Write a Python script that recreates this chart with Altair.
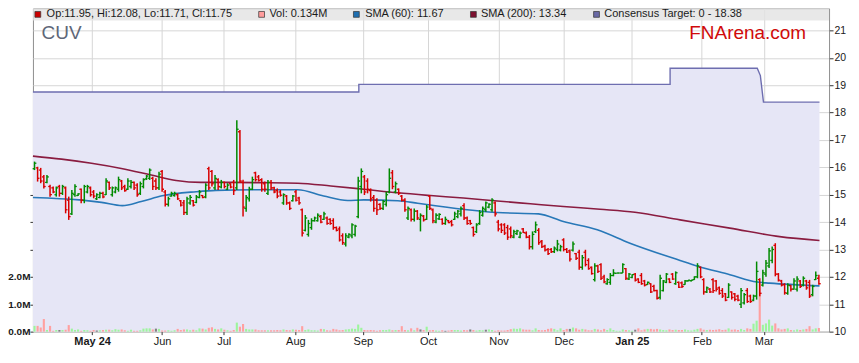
import altair as alt
import pandas as pd

# ---------------- data ----------------
OPEN = [
    15.95, 15.98, 15.90, 15.65, 15.45, 15.30, 15.25, 15.00, 15.30, 15.05,
    15.25, 14.80, 14.30, 15.00, 14.97, 15.20, 14.80, 15.10, 15.25, 15.10,
    14.85, 14.90, 15.05, 15.00, 15.45, 15.00, 15.10, 15.20, 15.50, 15.30,
    15.20, 15.30, 15.45, 15.35, 15.05, 15.30, 15.58, 15.60, 15.60, 15.50,
    15.25, 15.85, 15.10, 14.65, 14.95, 14.97, 15.00, 14.78, 14.70, 14.35,
    14.70, 14.78, 14.72, 14.90, 14.97, 14.92, 15.95, 15.85, 15.25, 15.55,
    15.28, 15.45, 15.20, 15.40, 15.45, 15.25, 17.30, 15.45, 14.50, 14.85,
    15.20, 15.80, 15.65, 15.55, 15.40, 15.05, 15.45, 15.25, 15.15, 15.10,
    14.70, 14.95, 14.70, 14.78, 15.10, 14.88, 14.45, 13.70, 13.55, 13.80,
    14.05, 14.05, 14.20, 14.10, 14.15, 14.10, 14.05, 13.80, 13.75, 13.50,
    13.20, 13.45, 13.50, 13.55, 14.20, 15.30, 15.65, 15.50, 15.15, 14.90,
    14.80, 14.65, 14.50, 14.65, 15.10, 15.80, 15.10, 15.20, 14.95, 14.80,
    14.15, 14.45, 14.10, 14.40, 14.10, 14.22, 14.10, 14.95, 14.45, 14.00,
    14.12, 14.10, 13.95, 14.05, 14.02, 14.10, 14.20, 14.30, 14.60, 14.15,
    14.05, 13.80, 13.65, 13.95, 14.25, 14.45, 14.55, 14.45, 14.70, 14.00,
    13.90, 13.90, 13.80, 13.75, 13.45, 13.58, 13.45, 13.75, 13.60, 13.45,
    13.10, 13.65, 13.70, 13.30, 13.12, 13.00, 13.00, 12.92, 13.00, 12.98,
    13.35, 13.00, 12.95, 12.98, 12.85, 12.90, 12.35, 12.90, 12.60, 12.35,
    11.90, 12.40, 12.45, 12.00, 11.75, 11.80, 12.05, 12.13, 12.14, 12.14,
    12.30, 11.92, 11.98, 12.10, 11.92, 12.05, 11.85, 11.72, 11.75, 11.65,
    11.50, 11.25, 11.50, 11.80, 11.92, 12.10, 11.75, 11.80, 11.78, 11.72,
    11.85, 11.86, 11.90, 12.00, 12.35, 11.90, 11.45, 11.55, 11.90, 11.85,
    11.60, 11.50, 11.38, 11.25, 11.45, 11.38, 11.30, 11.00, 11.05, 11.50,
    11.30, 11.15, 11.30, 11.90, 11.70, 12.10, 12.40, 12.60, 13.15, 12.10,
    11.85, 11.72, 11.40, 11.68, 11.55, 11.55, 11.85, 11.70, 11.85, 11.80,
    11.35, 11.90, 11.95,
]
HIGH = [
    16.21, 16.02, 15.98, 15.72, 15.72, 15.36, 15.30, 15.30, 15.36, 15.36,
    15.30, 14.93, 15.17, 15.38, 15.05, 15.23, 15.36, 15.36, 15.30, 15.17,
    15.05, 15.11, 15.11, 15.60, 15.48, 15.30, 15.30, 15.66, 15.54, 15.36,
    15.60, 15.54, 15.48, 15.42, 15.48, 15.60, 15.72, 15.96, 15.66, 15.60,
    15.84, 15.90, 15.17, 14.93, 15.11, 15.11, 15.05, 14.81, 14.81, 14.93,
    14.99, 14.81, 14.99, 15.17, 14.99, 15.42, 16.02, 15.90, 15.72, 15.60,
    15.54, 15.48, 15.42, 15.42, 15.54, 17.72, 17.36, 15.55, 14.99, 15.29,
    15.66, 15.84, 15.72, 15.60, 15.48, 15.54, 15.54, 15.29, 15.23, 15.17,
    15.05, 14.99, 14.75, 14.99, 15.17, 14.93, 14.50, 14.26, 14.08, 14.14,
    14.20, 14.32, 14.26, 14.38, 14.20, 14.14, 14.14, 13.84, 13.84, 13.59,
    13.59, 13.59, 13.96, 13.90, 15.66, 15.96, 15.72, 15.60, 15.23, 14.99,
    14.87, 14.69, 14.81, 15.11, 15.96, 15.90, 15.48, 15.23, 14.99, 14.87,
    14.57, 14.50, 14.50, 14.44, 14.32, 14.26, 14.63, 14.99, 14.50, 14.32,
    14.32, 14.14, 14.20, 14.08, 14.08, 14.38, 14.44, 14.57, 14.69, 14.20,
    14.08, 13.84, 13.96, 14.44, 14.57, 14.75, 14.69, 14.87, 14.75, 14.08,
    13.96, 13.96, 13.90, 13.84, 13.72, 13.72, 13.66, 13.78, 13.66, 13.53,
    13.66, 14.02, 13.78, 13.35, 13.17, 13.05, 13.05, 13.11, 13.35, 13.17,
    13.41, 13.05, 13.00, 13.29, 12.87, 12.99, 12.80, 12.99, 12.68, 12.38,
    12.50, 12.44, 12.50, 12.08, 11.95, 12.14, 12.28, 12.14, 12.14, 12.50,
    12.32, 12.14, 12.10, 12.14, 11.95, 12.14, 11.89, 11.83, 11.77, 11.71,
    11.53, 12.08, 11.89, 12.14, 11.95, 12.14, 12.20, 11.83, 11.83, 11.89,
    11.89, 11.89, 12.02, 12.50, 12.38, 11.95, 11.65, 11.59, 11.95, 11.89,
    11.65, 11.59, 11.41, 11.77, 11.47, 11.41, 11.35, 11.59, 11.41, 11.59,
    11.35, 11.35, 12.56, 11.95, 12.26, 12.62, 13.05, 13.11, 13.23, 12.14,
    11.89, 11.77, 11.77, 11.71, 11.95, 12.02, 11.89, 12.02, 11.89, 11.89,
    11.71, 12.20, 12.08,
]
LOW = [
    15.90, 15.48, 15.42, 15.23, 15.42, 14.93, 15.05, 14.93, 14.93, 14.99,
    14.32, 14.08, 14.26, 14.93, 14.95, 14.69, 14.69, 15.05, 14.93, 14.87,
    14.81, 14.87, 14.87, 14.99, 15.17, 14.93, 15.05, 15.11, 15.17, 15.11,
    15.17, 15.23, 15.17, 14.93, 14.99, 15.23, 15.54, 15.54, 15.17, 15.17,
    15.17, 15.11, 14.57, 14.57, 14.93, 14.93, 14.81, 14.57, 14.26, 14.26,
    14.63, 14.57, 14.69, 14.87, 14.87, 14.87, 15.17, 15.30, 15.17, 15.17,
    15.23, 15.23, 15.17, 15.23, 14.99, 15.17, 15.43, 14.20, 14.38, 14.75,
    15.17, 15.48, 15.48, 15.11, 15.11, 14.99, 15.17, 15.05, 14.87, 14.93,
    14.63, 14.63, 14.44, 14.75, 14.75, 14.63, 13.47, 13.66, 13.47, 13.72,
    14.02, 14.02, 13.96, 14.08, 13.90, 13.90, 13.72, 13.66, 13.29, 13.17,
    13.11, 13.41, 13.41, 13.47, 14.14, 15.05, 14.99, 15.05, 14.75, 14.38,
    14.26, 14.44, 14.44, 14.57, 15.05, 15.20, 15.05, 14.99, 14.75, 14.38,
    14.08, 14.02, 14.02, 14.08, 13.66, 14.02, 14.08, 14.44, 13.96, 13.96,
    14.08, 13.90, 13.90, 13.96, 13.84, 14.08, 14.14, 14.20, 14.08, 13.90,
    13.90, 13.47, 13.60, 13.90, 14.20, 14.38, 14.51, 14.38, 14.20, 13.66,
    13.60, 13.53, 13.35, 13.41, 13.41, 13.53, 13.41, 13.60, 13.41, 13.00,
    13.00, 13.60, 13.17, 13.05, 12.93, 12.80, 12.87, 12.87, 12.93, 12.93,
    12.93, 12.87, 12.56, 12.93, 12.62, 12.26, 12.26, 12.38, 12.26, 12.08,
    11.83, 12.14, 11.89, 11.77, 11.71, 11.71, 12.02, 12.13, 12.14, 12.14,
    11.89, 11.89, 11.95, 11.83, 11.77, 11.71, 11.65, 11.71, 11.41, 11.47,
    11.17, 11.17, 11.47, 11.77, 11.77, 11.89, 11.71, 11.59, 11.59, 11.71,
    11.83, 11.83, 11.89, 11.95, 11.95, 11.35, 11.41, 11.41, 11.41, 11.47,
    11.35, 11.23, 11.11, 11.23, 11.17, 11.11, 11.11, 10.86, 10.99, 11.05,
    11.05, 11.11, 11.17, 11.29, 11.65, 12.00, 12.32, 12.50, 12.02, 11.83,
    11.65, 11.35, 11.35, 11.47, 11.53, 11.47, 11.59, 11.65, 11.53, 11.23,
    11.29, 11.89, 11.71,
]
CLOSE = [
    16.15, 15.60, 15.50, 15.30, 15.65, 15.00, 15.10, 15.25, 15.05, 15.30,
    14.45, 14.20, 15.05, 15.30, 15.03, 14.80, 15.30, 15.30, 15.00, 14.95,
    15.00, 15.05, 14.92, 15.50, 15.25, 15.25, 15.25, 15.55, 15.25, 15.15,
    15.50, 15.45, 15.25, 15.00, 15.40, 15.55, 15.68, 15.90, 15.30, 15.25,
    15.75, 15.20, 14.65, 14.85, 15.05, 15.05, 14.85, 14.62, 14.35, 14.85,
    14.90, 14.62, 14.92, 15.10, 14.90, 15.35, 15.25, 15.40, 15.60, 15.30,
    15.45, 15.30, 15.35, 15.28, 15.15, 17.39, 15.50, 14.55, 14.90, 15.20,
    15.55, 15.55, 15.52, 15.20, 15.20, 15.45, 15.25, 15.10, 14.95, 14.98,
    15.00, 14.70, 14.50, 14.95, 14.80, 14.70, 13.60, 14.15, 13.95, 14.05,
    14.15, 14.25, 14.00, 14.30, 13.95, 13.95, 13.80, 13.70, 13.35, 13.25,
    13.50, 13.55, 13.90, 13.85, 15.50, 15.85, 15.10, 15.20, 14.85, 14.50,
    14.45, 14.50, 14.75, 15.00, 15.60, 15.30, 15.40, 15.05, 14.80, 14.45,
    14.50, 14.10, 14.40, 14.15, 14.25, 14.08, 14.55, 14.50, 14.05, 14.25,
    14.28, 13.95, 14.10, 13.98, 13.90, 14.30, 14.40, 14.50, 14.15, 13.95,
    13.95, 13.55, 13.90, 14.35, 14.50, 14.70, 14.65, 14.80, 14.30, 13.75,
    13.70, 13.60, 13.45, 13.50, 13.65, 13.68, 13.60, 13.62, 13.45, 13.10,
    13.55, 13.90, 13.25, 13.10, 12.98, 12.85, 12.92, 13.05, 13.20, 13.10,
    13.00, 12.90, 12.65, 13.20, 12.68, 12.35, 12.70, 12.45, 12.30, 12.12,
    12.40, 12.20, 11.95, 11.82, 11.90, 12.05, 12.14, 12.14, 12.14, 12.45,
    11.95, 12.10, 12.08, 11.88, 11.80, 11.75, 11.70, 11.80, 11.45, 11.50,
    11.22, 11.95, 11.85, 12.10, 11.80, 11.92, 12.15, 11.62, 11.65, 11.85,
    11.88, 11.88, 12.00, 12.40, 12.00, 11.45, 11.60, 11.45, 11.50, 11.55,
    11.40, 11.30, 11.15, 11.70, 11.25, 11.18, 11.15, 11.50, 11.35, 11.10,
    11.10, 11.30, 12.20, 11.40, 12.15, 12.50, 12.95, 13.00, 12.10, 11.88,
    11.70, 11.42, 11.70, 11.55, 11.85, 11.92, 11.65, 11.95, 11.60, 11.30,
    11.65, 12.05, 11.75,
]
VOLUME_M = [
    0.21, 0.21, 0.15, 0.46, 0.06, 0.21, 0.03, 0.06, 0.06, 0.06,
    0.07, 0.24, 0.11, 0.06, 0.08, 0.03, 0.06, 0.05, 0.03, 0.06,
    0.04, 0.05, 0.06, 0.07, 0.07, 0.05, 0.09, 0.07, 0.08, 0.05,
    0.03, 0.07, 0.03, 0.03, 0.05, 0.11, 0.12, 0.12, 0.08, 0.11,
    0.10, 0.04, 0.04, 0.05, 0.03, 0.05, 0.10, 0.06, 0.08, 0.08,
    0.05, 0.07, 0.05, 0.12, 0.11, 0.08, 0.14, 0.16, 0.10, 0.08,
    0.12, 0.07, 0.05, 0.03, 0.06, 0.33, 0.18, 0.28, 0.10, 0.08,
    0.08, 0.08, 0.05, 0.05, 0.05, 0.05, 0.05, 0.05, 0.06, 0.05,
    0.08, 0.06, 0.05, 0.08, 0.07, 0.06, 0.20, 0.06, 0.08, 0.05,
    0.05, 0.04, 0.10, 0.09, 0.05, 0.04, 0.10, 0.08, 0.05, 0.06,
    0.08, 0.09, 0.11, 0.10, 0.26, 0.14, 0.06, 0.05, 0.06, 0.05,
    0.03, 0.05, 0.06, 0.06, 0.08, 0.05, 0.06, 0.06, 0.20, 0.06,
    0.05, 0.12, 0.05, 0.14, 0.08, 0.06, 0.18, 0.05, 0.06, 0.04,
    0.03, 0.05, 0.03, 0.04, 0.06, 0.06, 0.06, 0.04, 0.06, 0.05,
    0.08, 0.06, 0.04, 0.06, 0.05, 0.07, 0.08, 0.06, 0.03, 0.05,
    0.04, 0.04, 0.06, 0.09, 0.11, 0.10, 0.12, 0.08, 0.07, 0.07,
    0.05, 0.12, 0.06, 0.05, 0.06, 0.10, 0.12, 0.10, 0.05, 0.12,
    0.06, 0.10, 0.10, 0.15, 0.12, 0.07, 0.10, 0.08, 0.05, 0.05,
    0.10, 0.08, 0.05, 0.10, 0.06, 0.12, 0.06, 0.03, 0.03, 0.08,
    0.06, 0.05, 0.03, 0.07, 0.12, 0.05, 0.08, 0.10, 0.10, 0.08,
    0.10, 0.08, 0.06, 0.05, 0.08, 0.06, 0.07, 0.06, 0.06, 0.08,
    0.05, 0.04, 0.07, 0.10, 0.12, 0.07, 0.06, 0.07, 0.06, 0.07,
    0.09, 0.06, 0.07, 0.12, 0.07, 0.08, 0.06, 0.10, 0.06, 0.12,
    0.10, 0.29, 0.40, 1.77, 0.25, 0.30, 0.44, 0.22, 0.30, 0.12,
    0.08, 0.10, 0.12, 0.06, 0.05, 0.08, 0.06, 0.08, 0.10, 0.20,
    0.08, 0.12, 0.134,
]
GRAY_VOLUME_DAYS = [8, 20, 39, 124, 132, 140, 145, 172, 193]

SMA60_AT = [-0.5, 14.4, 21.5, 28.2, 34.3, 41.0, 51.9, 58.3, 70.5, 84.6, 92.9, 100.6,
            105.8, 116.7, 123.1, 128.8, 148.7, 161.9, 169.9, 180.8, 191.3, 207.4,
            212.8, 223.4, 232.1, 236.2, 252.2]
SMA60 = [14.90, 14.81, 14.72, 14.60, 14.75, 14.96, 15.11, 15.16, 15.18, 15.18, 14.95, 14.79,
         14.81, 14.78, 14.69, 14.60, 14.35, 14.30, 14.02, 13.72, 13.23, 12.60,
         12.40, 12.08, 11.81, 11.77, 11.67]
SMA200_AT = [-0.5, 8.7, 18.3, 27.9, 37.5, 45.5, 53.5, 63.1, 72.8, 84.6, 95.2, 105.8,
             116.7, 127.2, 137.8, 148.7, 159.3, 169.9, 181.7, 192.9, 207.4, 223.4,
             239.4, 252.2]
SMA200 = [16.41, 16.30, 16.15, 15.96, 15.72, 15.52, 15.45, 15.45, 15.44, 15.42, 15.32, 15.20,
          15.07, 14.97, 14.88, 14.77, 14.67, 14.57, 14.47, 14.36, 14.08, 13.78,
          13.47, 13.33]
TARGET_AT = [-0.5, 104.2, 104.2, 204.2, 204.2, 232.2, 233.2, 234.2, 252.2]
TARGET = [18.75, 18.75, 19.03, 19.03, 19.62, 19.62, 19.35, 18.38, 18.38]

MONTH_AT = [18.5, 41.0, 60.8, 83.8, 105.5, 126.4, 149.1, 170.0, 191.9, 214.4, 234.3]
MONTH_LABELS = ["May 24", "Jun", "Jul", "Aug", "Sep", "Oct", "Nov", "Dec", "Jan 25", "Feb", "Mar"]
BOLD_MONTHS = ["May 24", "Jan 25"]
PRICE_TICKS = [10, 11, 12, 13, 14, 15, 16, 17, 18, 19, 20, 21]
VOLUME_TICKS = [0, 1, 2, 3, 4, 5]
VOLUME_LABELLED_MAX = 2

LEGEND_LABELS = ["Op:11.95, Hi:12.08, Lo:11.71, Cl:11.75", "Vol: 0.134M",
                 "SMA (60): 11.67", "SMA (200): 13.34", "Consensus Target: 0 - 18.38"]
TICKER = "CUV"
BRAND = "FNArena.com"

# ---------------- layout and style ----------------
FONT = "Liberation Sans"
PLOT_W, PLOT_H = 798, 324
PX_PER_DAY = 3.12
PX_PER_UNIT = 27.45
X_MIN = -0.5
X_MAX = X_MIN + PLOT_W / PX_PER_DAY
P_MIN = 10
P_MAX = P_MIN + PLOT_H / PX_PER_UNIT
V_MAX = PLOT_H / PX_PER_UNIT

UP, DOWN = "#008a00", "#d80000"
VOL_UP, VOL_DOWN, VOL_FLAT = "#9df59d", "#ffa0a0", "#808080"
SMA60_COLOR, SMA200_COLOR = "#2878b8", "#8a1c40"
LAVENDER, TARGET_LINE = "#e6e6f6", "#6e6eb0"
GRID, TICK, LABEL, FRAME = "#d6d6d6", "#333333", "#1a1a1a", "#8f8f8f"
BAND = "#e2e2e2"
LEGEND_COLORS = ["#cc0000", "#ff9c9c", "#1f6fb0", "#7d1030", "#6a6aa6"]
LEGEND_SQUARE_X = [4.9, 229.2, 324.2, 441.5, 564.9]
LEGEND_TEXT_X = [13.7, 237.0, 333.0, 449.0, 572.7]
LEGEND_Y = 6

n = len(CLOSE)
assert all(len(a) == n for a in (OPEN, HIGH, LOW, VOLUME_M)), [len(a) for a in (OPEN, HIGH, LOW, CLOSE, VOLUME_M)]

days = pd.DataFrame({"i": list(range(n)), "O": OPEN, "H": HIGH, "L": LOW, "C": CLOSE, "V": VOLUME_M})
days["dir"] = ["up" if c >= o else "down" for o, c in zip(OPEN, CLOSE)]
days["vdir"] = ["flat" if k in GRAY_VOLUME_DAYS else d for k, d in enumerate(days["dir"])]

sma60_df = pd.DataFrame({"at": SMA60_AT, "v": SMA60})
sma200_df = pd.DataFrame({"at": SMA200_AT, "v": SMA200})
target_df = pd.DataFrame({"at": TARGET_AT, "v": TARGET, "seq": list(range(len(TARGET)))})
target_df["base"] = P_MIN

# ---------------- scales and axes ----------------
label_expr = "''"
for at, lab in reversed(list(zip(MONTH_AT, MONTH_LABELS))):
    label_expr = f"datum.value == {at} ? '{lab}' : ({label_expr})"
bold_test = " || ".join(f"datum.value == {MONTH_AT[MONTH_LABELS.index(b)]}" for b in BOLD_MONTHS)

x_scale = alt.Scale(domain=[X_MIN, X_MAX], nice=False, zero=False)
x_axis = alt.Axis(values=MONTH_AT, labelExpr=label_expr, title=None, grid=True, gridColor=GRID,
                  tickSize=3, tickColor=TICK, labelPadding=1, labelFont=FONT, labelFontSize=11,
                  labelColor=LABEL, labelFlush=False, labelOverlap=False, domain=False,
                  labelFontWeight={"condition": {"test": bold_test, "value": "bold"}, "value": "normal"})

p_scale = alt.Scale(domain=[P_MIN, P_MAX], nice=False, zero=False)
p_axis = alt.Axis(orient="right", values=PRICE_TICKS, title=None, grid=True, gridColor=GRID,
                  tickSize=4, tickColor=TICK, labelPadding=1, labelFont=FONT, labelFontSize=10.5,
                  labelColor=LABEL, labelFlush=False, domain=False)

v_scale = alt.Scale(domain=[0, V_MAX], nice=False, zero=False)
v_axis = alt.Axis(orient="left", values=VOLUME_TICKS, title=None, grid=False,
                  labelExpr=f"datum.value <= {VOLUME_LABELLED_MAX} ? format(datum.value, '.1f') + 'M' : ''",
                  tickSize=3, tickColor=TICK, labelPadding=0, labelFont=FONT, labelFontSize=10,
                  labelFontWeight="bold", labelColor=LABEL, labelFlush=False, domain=False)


def X(field):
    return alt.X(f"{field}:Q", scale=x_scale, axis=x_axis)


def PY(field):
    return alt.Y(f"{field}:Q", scale=p_scale, axis=p_axis)


ohlc_color = alt.Color("dir:N", scale=alt.Scale(domain=["up", "down"], range=[UP, DOWN]), legend=None)

# ---------------- layers ----------------
target_fill = alt.Chart(target_df).mark_area(color=LAVENDER, opacity=1, interpolate="linear").encode(
    x=X("at"), y=alt.Y("v:Q", scale=p_scale, axis=None), y2=alt.Y2("base"))
target_line = alt.Chart(target_df).mark_line(color=TARGET_LINE, strokeWidth=1.4).encode(
    x=X("at"), y=alt.Y("v:Q", scale=p_scale, axis=None), order=alt.Order("seq:Q"))
target = alt.layer(target_fill, target_line)

volume = alt.Chart(days).transform_calculate(
    v0="datum.i - 0.34", v1="datum.i + 0.34"
).mark_bar().encode(
    x=X("v0"), x2=alt.X2("v1"),
    y=alt.Y("V:Q", scale=v_scale, axis=v_axis), y2=alt.datum(0),
    fill=alt.Fill("vdir:N", scale=alt.Scale(domain=["up", "down", "flat"], range=[VOL_UP, VOL_DOWN, VOL_FLAT]),
                  legend=None),
)

band = alt.Chart(pd.DataFrame({"k": [0]})).mark_rect(fill=BAND, opacity=0.8).encode(
    x=alt.value(0), x2=alt.value(PLOT_W), y=alt.value(0), y2=alt.value(12))

sma200 = alt.Chart(sma200_df).mark_line(color=SMA200_COLOR, strokeWidth=1.6, interpolate="monotone").encode(
    x=X("at"), y=PY("v"))
sma60 = alt.Chart(sma60_df).mark_line(color=SMA60_COLOR, strokeWidth=1.6, interpolate="monotone").encode(
    x=X("at"), y=PY("v"))

hl = alt.Chart(days).mark_rule(strokeWidth=1.5).encode(x=X("i"), y=PY("L"), y2=alt.Y2("H"), color=ohlc_color)
opn = alt.Chart(days).transform_calculate(xa="datum.i - 0.6").mark_rule(strokeWidth=1.3).encode(
    x=X("xa"), x2=alt.X2("i"), y=PY("O"), color=ohlc_color)
cls = alt.Chart(days).transform_calculate(xb="datum.i + 0.6").mark_rule(strokeWidth=1.3).encode(
    x=X("i"), x2=alt.X2("xb"), y=PY("C"), color=ohlc_color)

legend_layers = []
for lab, col, sx, tx in zip(LEGEND_LABELS, LEGEND_COLORS, LEGEND_SQUARE_X, LEGEND_TEXT_X):
    d = pd.DataFrame({"label": [lab]})
    legend_layers.append(alt.Chart(d).mark_square(size=34, filled=True, fill=col, stroke="#333333",
                                                  strokeWidth=0.7, opacity=1).encode(
        x=alt.value(sx), y=alt.value(LEGEND_Y)))
    legend_layers.append(alt.Chart(d).mark_text(align="left", baseline="middle", font=FONT, fontSize=11,
                                                color="#1a1a1a").encode(
        x=alt.value(tx), y=alt.value(LEGEND_Y), text=alt.Text("label:N")))

ticker = alt.Chart(pd.DataFrame({"label": [TICKER]})).mark_text(
    align="left", baseline="alphabetic", font=FONT, fontSize=19, color="#5e6778").encode(
    x=alt.value(8.7), y=alt.value(30.5), text=alt.Text("label:N"))
brand = alt.Chart(pd.DataFrame({"label": [BRAND]})).mark_text(
    align="right", baseline="alphabetic", font=FONT, fontSize=19, color="#d00a0a").encode(
    x=alt.value(775), y=alt.value(30.5), text=alt.Text("label:N"))

price = alt.layer(band, sma200, sma60, hl, opn, cls, *legend_layers, ticker, brand)

chart = alt.layer(target, volume, price).resolve_scale(y="independent").properties(
    width=PLOT_W, height=PLOT_H,
    autosize=alt.AutoSizeParams(type="none"),
    padding={"left": 25, "right": 22, "top": 0, "bottom": 18},
).configure_view(stroke=FRAME, strokeWidth=1)

chart.save("out.html", embed_options={"renderer": "svg", "actions": False})
